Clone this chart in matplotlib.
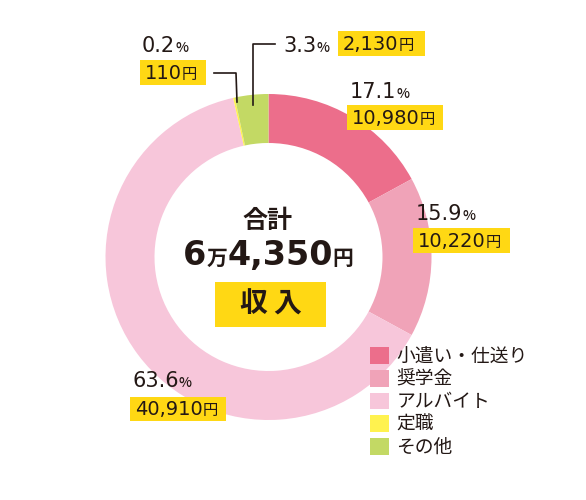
import matplotlib
matplotlib.use("Agg")
import matplotlib.pyplot as plt
from matplotlib.patches import Rectangle, Patch

plt.rcParams['font.family'] = ['Noto Sans CJK JP', 'DejaVu Sans']

# data
categories = ['小遣い・仕送り', '奨学金', 'アルバイト', '定職', 'その他']
amounts = [10980, 10220, 40910, 110, 2130]
percents = ['17.1', '15.9', '63.6', '0.2', '3.3']
amount_labels = ['10,980', '10,220', '40,910', '110', '2,130']
colors = ['#ec6e8b', '#f0a3b8', '#f7c6da', '#fff24f', '#c3d964']

TXT = '#231815'
BOX = '#ffd814'
NUM = ['DejaVu Sans']
JP = ['Noto Sans CJK JP', 'DejaVu Sans']

# label layout (pixel coords): percent text start/baseline, box x0,x1,y0,y1
pct_pos = [(350, 98), (416, 220), (132, 387), (142, 52), (283, 52)]
box_pos = [(347, 443, 105, 130), (413, 510, 228, 253), (130, 226, 397, 421),
           (140, 206, 60, 85), (338, 425, 31, 56)]

fig = plt.figure(figsize=(5.86, 5), dpi=100)
ax = fig.add_axes([0, 0, 1, 1])
renderer = fig.canvas.get_renderer()

cx, cy, r_out, ring = 268.5, 257, 163, 49
ax.pie(amounts, colors=colors, startangle=-90, counterclock=True,
       center=(cx, cy), radius=r_out, frame=True,
       wedgeprops=dict(width=ring, edgecolor='none'))
ax.set_xlim(0, 586)
ax.set_ylim(500, 0)
ax.set_aspect('equal')
ax.axis('off')


def run_text(x, y, parts, ha='left'):
    # write mixed-size pieces on one baseline: (text, size, family, weight)
    objs = []
    pos = x
    for s, size, fam, wt in parts:
        t = ax.text(pos, y, s, fontsize=size, ha='left', va='baseline',
                    color=TXT, fontweight=wt, family=fam)
        pos += t.get_window_extent(renderer).width
        objs.append(t)
    if ha == 'center':
        shift = (pos - x) / 2
        for t in objs:
            px, py = t.get_position()
            t.set_position((px - shift, py))
    return pos


for i in range(len(amounts)):
    px, py = pct_pos[i]
    run_text(px, py, [(percents[i], 15, NUM, 'normal'),
                      ('%', 10, JP, 'medium')])
    x0, x1, y0, y1 = box_pos[i]
    ax.add_patch(Rectangle((x0, y0), x1 - x0, y1 - y0, facecolor=BOX,
                           edgecolor='none', zorder=1))
    run_text(x0 + 5, y1 - 6, [(amount_labels[i], 14, NUM, 'normal'),
                              ('円', 11, JP, 'normal')])

# leader lines for small slices
ax.plot([214, 236, 237], [73, 73, 102], color=TXT, lw=1.2)
ax.plot([253, 253, 275], [105, 44, 44], color=TXT, lw=1.2)

# center text
ax.text(cx - 1, 228, '合計', fontsize=18, fontweight='bold', color=TXT,
        ha='center', va='baseline')
run_text(cx, 265, [('6', 24, NUM, 'bold'), ('万', 15, JP, 'bold'),
                   ('4,350', 24, NUM, 'bold'), ('円', 15, JP, 'bold')],
         ha='center')
ax.add_patch(Rectangle((215, 282), 111, 45, facecolor=BOX, edgecolor='none'))
ax.text(270.5, 305, '収 入', fontsize=20, fontweight='bold', color=TXT,
        ha='center', va='center')

handles = [Patch(facecolor=c, edgecolor='none') for c in colors]
ax.legend(handles, categories, loc='upper left',
          bbox_to_anchor=(370 / 586, 1 - 346 / 500), frameon=False,
          fontsize=13.5, handlelength=1.0, handleheight=1.0,
          handletextpad=0.4, labelspacing=0.09, borderpad=0,
          borderaxespad=0, labelcolor=TXT)

fig.savefig('out.png', dpi=100)
